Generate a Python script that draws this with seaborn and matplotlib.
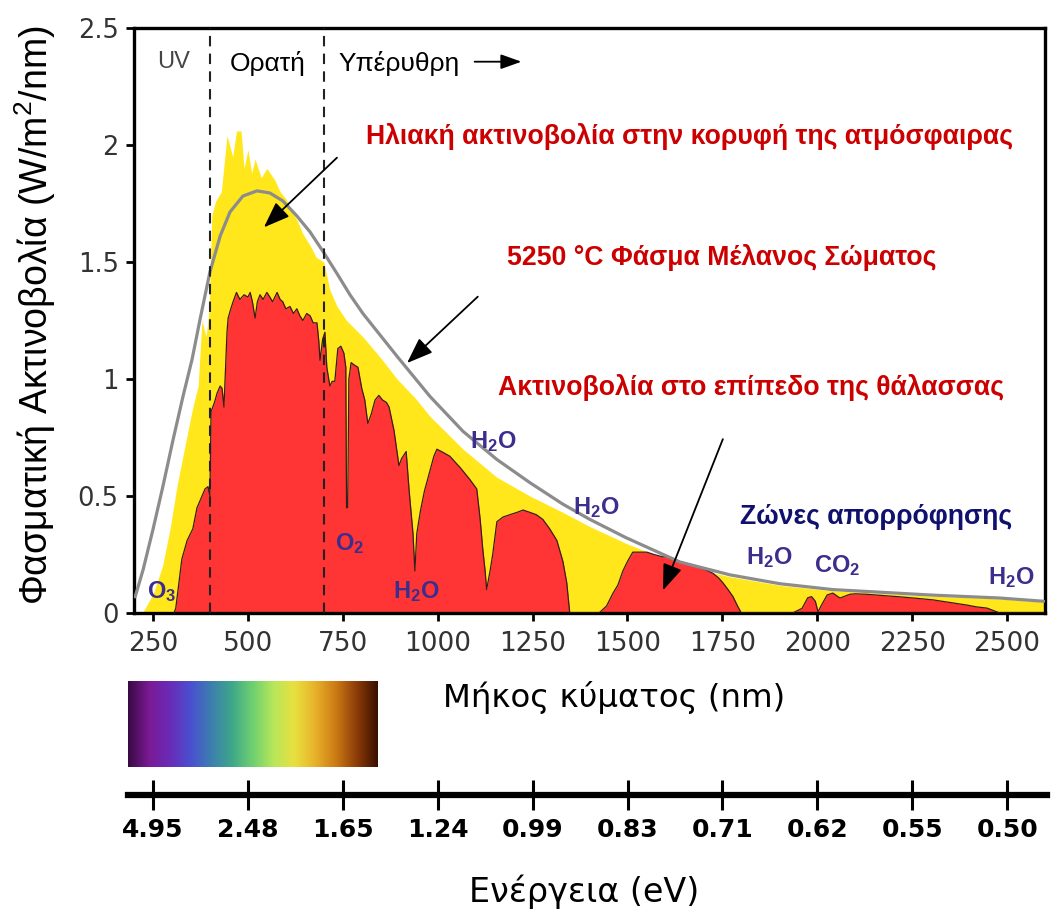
import matplotlib
matplotlib.use("Agg")
import matplotlib.pyplot as plt
import numpy as np
import seaborn as sns
from matplotlib.colors import LinearSegmentedColormap

# 5250 °C black body curve (grey line)
bb_nm = [203, 224, 250, 276, 303, 329, 353, 374, 400, 427, 453, 487, 524, 558, 592,
         629, 664, 698, 735, 769, 803, 893, 980, 1067, 1156, 1243, 1330, 1401, 1496,
         1638, 1770, 1902, 2041, 2297, 2481, 2597]
bb_val = [0.069, 0.185, 0.357, 0.54, 0.741, 0.925, 1.084, 1.255, 1.457, 1.611, 1.714,
          1.782, 1.804, 1.795, 1.761, 1.697, 1.628, 1.545, 1.45, 1.36, 1.28, 1.097,
          0.925, 0.776, 0.656, 0.557, 0.465, 0.40, 0.322, 0.218, 0.163, 0.125, 0.10,
          0.077, 0.064, 0.05]

# top of atmosphere spectrum (yellow)
toa_nm = [200, 222, 250, 275, 295, 313, 335, 355, 369, 379, 390, 398, 405, 415, 430,
          445, 460, 470, 482, 490, 500, 510, 519, 535, 550, 571, 585, 600, 615, 629,
          645, 664, 680, 700, 716, 735, 760, 803, 850, 893, 940, 980, 1067, 1156,
          1243, 1330, 1400, 1500, 1638, 1770, 1902, 2041, 2297, 2481, 2600]
toa_val = [0.0, 0.0, 0.08, 0.20, 0.36, 0.54, 0.72, 0.88, 0.97, 1.25, 1.18, 1.30,
           1.70, 1.76, 1.80, 2.04, 1.95, 2.06, 2.06, 1.90, 1.98, 1.88, 1.94, 1.86,
           1.90, 1.85, 1.80, 1.77, 1.72, 1.68, 1.62, 1.57, 1.52, 1.50, 1.38, 1.31,
           1.25, 1.18, 1.09, 1.00, 0.92, 0.84, 0.70, 0.58, 0.50, 0.43, 0.37, 0.295,
           0.205, 0.155, 0.118, 0.095, 0.072, 0.06, 0.046]

# sea level spectrum (red)
sea_nm = [305, 310, 326, 340, 355, 366, 374, 387, 395, 400, 403, 412, 419, 427, 432,
          437, 445, 448, 455, 461, 470, 479, 490, 500, 506, 512, 519, 525, 532, 540,
          550, 558, 565, 577, 585, 592, 600, 611, 620, 629, 637, 645, 655, 664, 672,
          682, 687, 690, 697, 703, 708, 716, 722, 729, 737, 745, 753, 758, 760, 763,
          766, 772, 780, 790, 800, 808, 816, 825, 835, 845, 855, 865, 872, 885, 898,
          905, 917, 925, 935, 940, 945, 955, 965, 980, 990, 998, 1010, 1032, 1060,
          1085, 1103, 1112, 1119, 1125, 1129, 1138, 1145, 1156, 1172, 1190, 1209,
          1225, 1243, 1260, 1277, 1295, 1314, 1330, 1340, 1348, 1425, 1445, 1462,
          1475, 1488, 1500, 1514, 1533, 1551, 1570, 1593, 1610, 1638, 1660, 1683,
          1705, 1725, 1740, 1751, 1765, 1778, 1790, 1800, 1935, 1960, 1975, 1985,
          1995, 2002, 2010, 2026, 2041, 2050, 2060, 2070, 2086, 2100, 2130, 2170,
          2218, 2260, 2305, 2350, 2394, 2420, 2447, 2465, 2481, 2600]
sea_val = [0.0, 0.02, 0.23, 0.31, 0.36, 0.45, 0.48, 0.53, 0.54, 0.50, 0.86, 0.90,
           0.94, 0.97, 0.96, 0.88, 1.20, 1.26, 1.30, 1.33, 1.37, 1.34, 1.36, 1.35,
           1.37, 1.33, 1.26, 1.33, 1.36, 1.34, 1.37, 1.35, 1.33, 1.37, 1.34, 1.33,
           1.30, 1.31, 1.28, 1.30, 1.27, 1.25, 1.28, 1.27, 1.24, 1.24, 1.16, 1.08,
           1.17, 1.20, 1.05, 0.97, 0.99, 0.99, 1.13, 1.14, 1.11, 1.05, 0.45, 0.45,
           1.00, 1.07, 1.06, 1.05, 0.96, 0.91, 0.81, 0.85, 0.91, 0.93, 0.91, 0.90,
           0.88, 0.78, 0.63, 0.66, 0.69, 0.52, 0.34, 0.18, 0.34, 0.44, 0.52, 0.61,
           0.67, 0.70, 0.69, 0.67, 0.62, 0.57, 0.53, 0.40, 0.27, 0.18, 0.10, 0.18,
           0.25, 0.39, 0.41, 0.42, 0.43, 0.44, 0.43, 0.42, 0.40, 0.36, 0.31, 0.22,
           0.13, 0.0, 0.0, 0.03, 0.085, 0.12, 0.18, 0.22, 0.26, 0.26, 0.26, 0.25,
           0.24, 0.24, 0.22, 0.21, 0.20, 0.185, 0.17, 0.15, 0.13, 0.10, 0.07, 0.03,
           0.0, 0.0, 0.02, 0.065, 0.07, 0.05, 0.005, 0.03, 0.077, 0.085, 0.075,
           0.064, 0.07, 0.08, 0.082, 0.08, 0.075, 0.069, 0.063, 0.056, 0.045, 0.034,
           0.026, 0.021, 0.01, 0.0, 0.0]

wl_ticks = [250, 500, 750, 1000, 1250, 1500, 1750, 2000, 2250, 2500]
y_ticks = [0, 0.5, 1, 1.5, 2, 2.5]
energy_labels = ["4.95", "2.48", "1.65", "1.24", "0.99", "0.83", "0.71", "0.62", "0.55", "0.50"]
spectrum_colors = ["#3a0a45", "#7b1a95", "#6a2bb8", "#4a4fd0", "#3c7fae", "#3fa78a",
                   "#6fd070", "#b8e65a", "#e9e040", "#e7b22a", "#cc7a14", "#8c3c08",
                   "#3a1000"]

YELLOW = "#FFE71C"
RED = "#FF3434"
DARK_RED = "#CC0000"
GAS_BLUE = "#3B2E8C"
WIDE = ["DejaVu Sans"]

W, H = 1056, 916


def main() -> None:
    sns.set_theme(style="white")
    plt.rcParams["font.family"] = ["Liberation Sans", "DejaVu Sans"]
    plt.rcParams["mathtext.fontset"] = "custom"
    plt.rcParams["mathtext.rm"] = "Liberation Sans"
    plt.rcParams["mathtext.bf"] = "Liberation Sans:bold"

    fig = plt.figure(figsize=(W / 100, H / 100), dpi=100)
    fig.patch.set_facecolor("white")
    ax = fig.add_axes([134 / W, 1 - 613 / H, 911 / W, 585 / H])

    ax.fill_between(toa_nm, 0, toa_val, color=YELLOW, lw=0, zorder=1)
    ax.fill_between(sea_nm, 0, sea_val, color=RED, lw=0, zorder=2)
    sns.lineplot(x=sea_nm, y=sea_val, ax=ax, color="#3a1c1c", lw=0.9, zorder=3)
    sns.lineplot(x=bb_nm, y=bb_val, ax=ax, color="#8c8c8c", lw=2.3, zorder=4)

    for wl in (400, 700):
        ax.axvline(wl, color="#222222", lw=1.5, ls=(0, (5, 3.5)), zorder=5)

    ax.set_xlim(200, 2600)
    ax.set_ylim(0, 2.5)
    ax.set_xticks(wl_ticks)
    ax.set_xticklabels([str(t) for t in wl_ticks], fontsize=19,
                       family=WIDE, color="#333333")
    ax.set_yticks(y_ticks)
    ax.set_yticklabels([f"{v:g}" for v in y_ticks], fontsize=18.5,
                       family=WIDE, color="#333333")
    ax.set_xlabel("")
    ax.set_ylabel("")
    ax.tick_params(axis="both", direction="out", length=6, width=2,
                   color="black", left=True, bottom=True)
    ax.tick_params(axis="x", pad=7)
    ax.tick_params(axis="y", pad=5)
    for sp in ax.spines.values():
        sp.set_linewidth(2.4)
        sp.set_color("black")

    # region labels
    ax.text(303, 2.356, "UV", fontsize=17, color="#444444", ha="center", va="center")
    ax.text(553, 2.35, "Ορατή", fontsize=19, color="black", ha="center", va="center")
    ax.text(740, 2.35, "Υπέρυθρη", fontsize=19, color="black", ha="left", va="center")
    ax.annotate("", xy=(1228, 2.356), xytext=(1090, 2.356),
                arrowprops=dict(arrowstyle="-|>,head_length=0.7,head_width=0.25",
                                color="black", lw=1.3, mutation_scale=18))

    # red annotations with arrows
    ax.text(811, 2.035, "Ηλιακή ακτινοβολία στην κορυφή της ατμόσφαιρας",
            fontsize=19.2, fontweight="bold", color=DARK_RED, ha="left", va="center")
    ax.text(1183, 1.521, "5250 °C Φάσμα Μέλανος Σώματος",
            fontsize=19.2, fontweight="bold", color=DARK_RED, ha="left", va="center")
    ax.text(1159, 0.964, "Ακτινοβολία στο επίπεδο της θάλασσας",
            fontsize=19.2, fontweight="bold", color=DARK_RED, ha="left", va="center")
    ax.text(1796, 0.411, "Ζώνες απορρόφησης",
            fontsize=19.2, fontweight="bold", color="#10106E", ha="left", va="center")

    arrow_kw = dict(arrowstyle="-|>,head_length=0.8,head_width=0.3",
                    color="black", lw=1.3, mutation_scale=20)
    ax.annotate("", xy=(537, 1.64), xytext=(740, 1.954), arrowprops=arrow_kw, zorder=6)
    ax.annotate("", xy=(914, 1.06), xytext=(1111, 1.36), arrowprops=arrow_kw, zorder=6)
    ax.annotate("", xy=(1591, 0.086), xytext=(1754, 0.754), arrowprops=arrow_kw, zorder=6)

    gas_labels = [
        (r"$\mathbf{O_3}$", 274, 0.09),
        (r"$\mathbf{O_2}$", 769, 0.296),
        (r"$\mathbf{H_2O}$", 943, 0.09),
        (r"$\mathbf{H_2O}$", 1146, 0.733),
        (r"$\mathbf{H_2O}$", 1417, 0.45),
        (r"$\mathbf{H_2O}$", 1873, 0.236),
        (r"$\mathbf{CO_2}$", 2052, 0.201),
        (r"$\mathbf{H_2O}$", 2510, 0.15),
    ]
    for label, x, y in gas_labels:
        ax.text(x, y, label, fontsize=17, color=GAS_BLUE, ha="center", va="center", zorder=6)

    fig.text(35 / W, 1 - 315 / H, "Φασματική Ακτινοβολία (W/m$^2$/nm)",
             rotation=90, fontsize=27, ha="center", va="center", color="black")
    fig.text(614 / W, 1 - 697 / H, "Μήκος κύματος (nm)", family=WIDE,
             fontsize=23.3, ha="center", va="center", color="black")

    # visible spectrum strip
    sax = fig.add_axes([128 / W, 1 - 767 / H, 249 / W, 86 / H])
    cmap = LinearSegmentedColormap.from_list("visible", spectrum_colors)
    sax.imshow(np.linspace(0, 1, 256)[None, :], aspect="auto", cmap=cmap)
    sax.axis("off")

    # energy axis
    eax = fig.add_axes([128 / W, 1 - 795 / H, 919 / W, 0.0005])
    eax.set_facecolor("none")
    eax.set_xlim(184, 2605)
    eax.set_yticks([])
    eax.set_xticks(wl_ticks)
    eax.set_xticklabels(energy_labels, family=WIDE, fontweight="bold",
                        fontsize=18, color="black")
    for side in ("left", "right", "top"):
        eax.spines[side].set_visible(False)
    eax.spines["bottom"].set_linewidth(4.5)
    eax.spines["bottom"].set_color("black")
    eax.tick_params(axis="x", direction="inout", length=21.5, width=2.2,
                    color="black", pad=6, bottom=True)

    fig.text(584 / W, 1 - 892 / H, "Ενέργεια (eV)", family=WIDE,
             fontsize=24, ha="center", va="center", color="black")

    fig.savefig("out.png", dpi=100, facecolor="white")
    plt.close(fig)


if __name__ == "__main__":
    main()
